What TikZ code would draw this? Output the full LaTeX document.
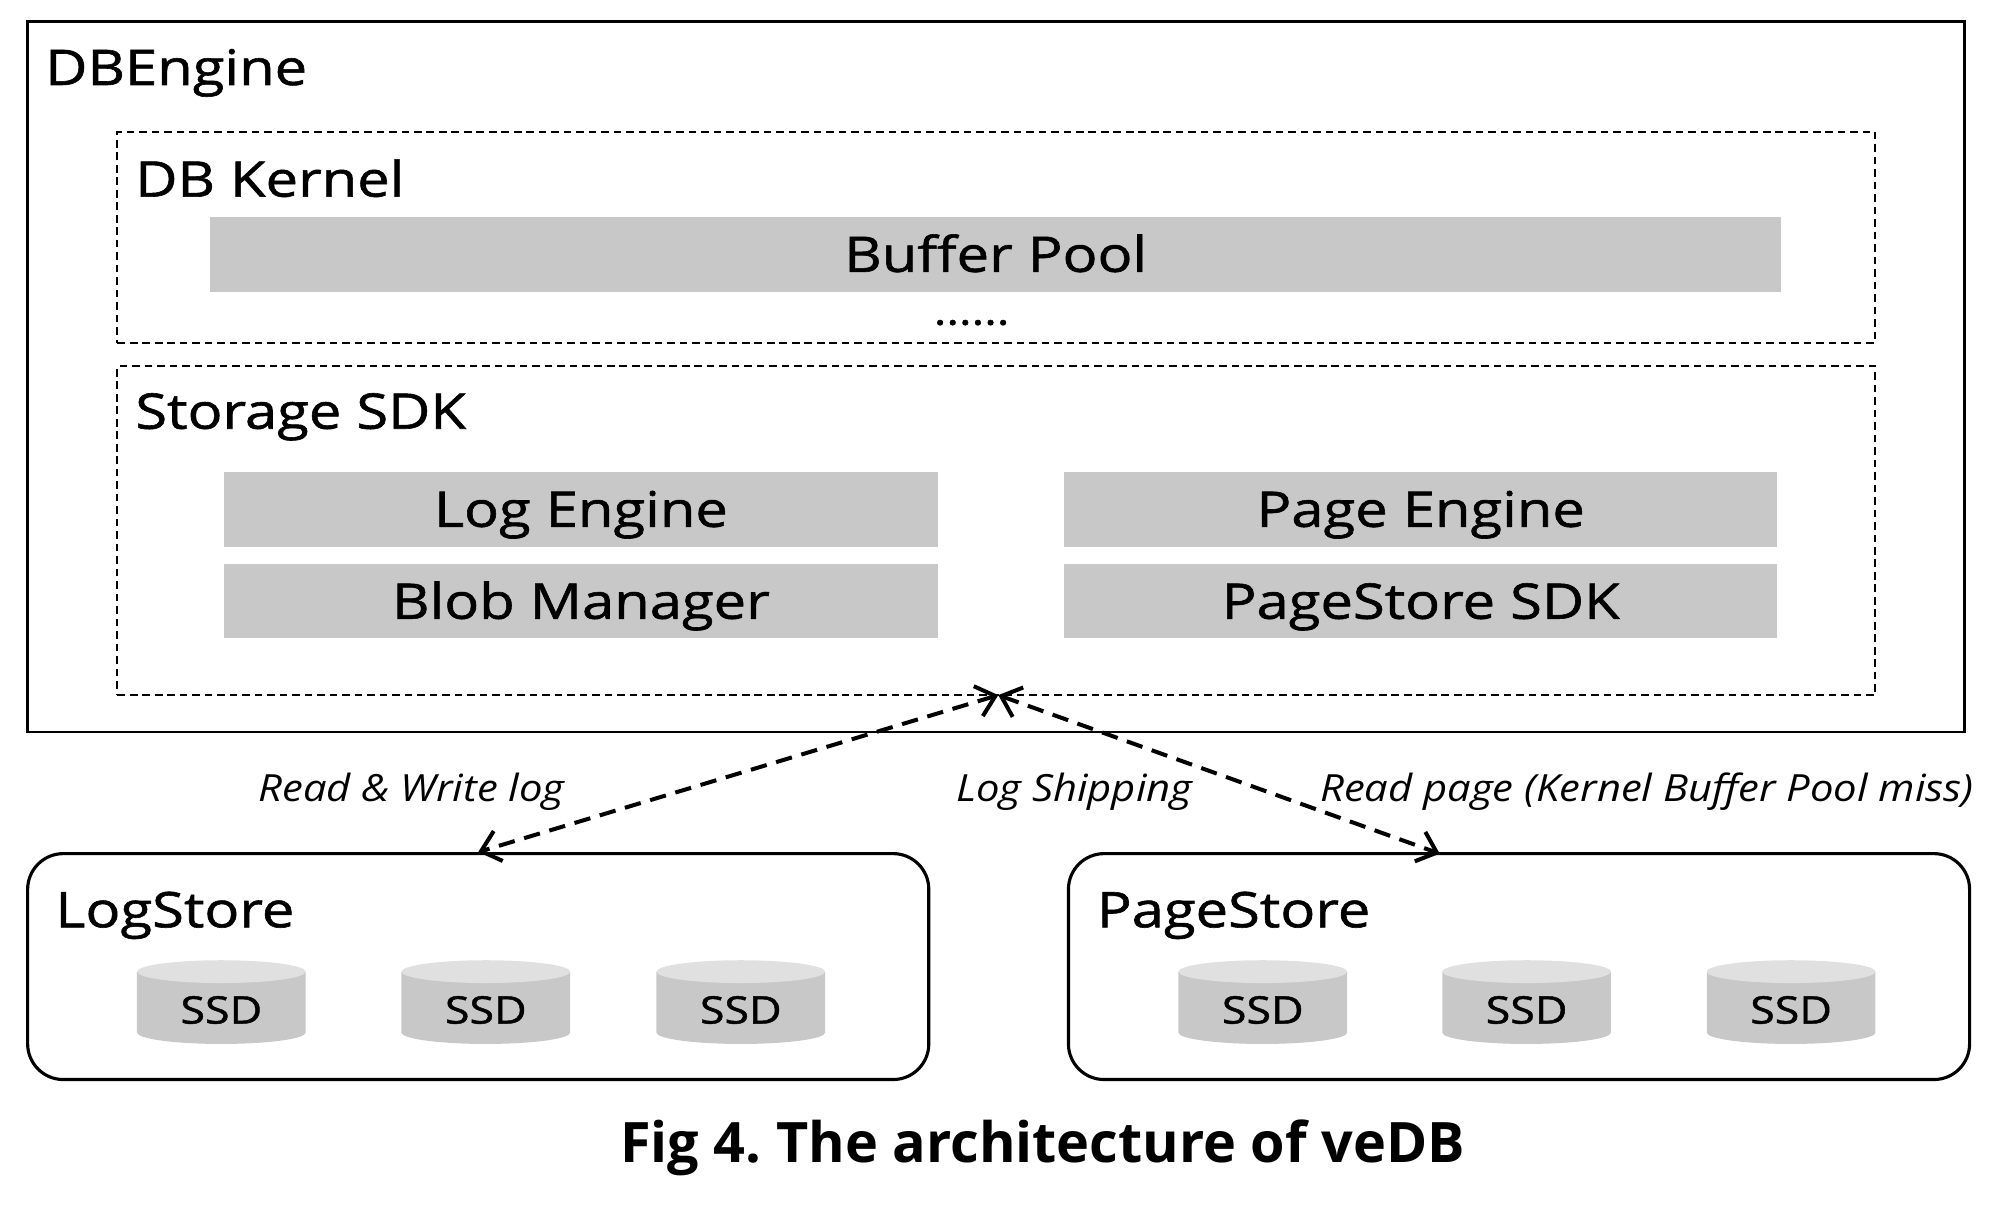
\documentclass[tikz,border=0pt]{standalone}
\usepackage{fontspec}
\setmainfont{Open Sans}[UprightFeatures={FakeStretch=1.18,FakeBold=1.2},ItalicFeatures={FakeStretch=1.115}]
\newfontfamily\figcapfont{Open Sans}
\usetikzlibrary{arrows.meta}
\frenchspacing

\definecolor{barGray}{RGB}{200,200,200}
\definecolor{ssdTop}{RGB}{224,224,224}

\tikzset{
	layerbox/.style={draw,dash pattern=on 1.7pt off 1.1pt,line width=0.45pt,minimum width=13.85cm},
	module/.style={fill=barGray,inner sep=0pt,text height=7.85pt,text depth=0pt,font=\fontsize{11}{13}\selectfont},
	title/.style={anchor=base west,inner sep=0pt,font=\fontsize{11}{13}\selectfont},
	store/.style={draw,rounded corners=8pt,line width=0.7pt,minimum width=7.1cm,minimum height=1.78cm},
	disk/.style={inner sep=0pt,text height=6.2pt,text depth=0pt,font=\fontsize{8.5}{10}\selectfont},
	note/.style={anchor=base west,inner sep=0pt,font=\fontsize{8.4}{10}\selectfont\itshape},
	link/.style={dash pattern=on 3.7pt off 2.2pt,line width=0.9pt,
		{Straight Barb[length=4pt,width=7pt]}-{Straight Barb[length=4pt,width=7pt]}},
}

\begin{document}
\begin{tikzpicture}[x=0.01cm,y=0.01cm]
\useasboundingbox (0,0) rectangle (1568,957);

%DBEngine
\node[draw,line width=0.6pt,minimum width=15.26cm,minimum height=5.6cm] (dbengine) at (785,660) {};
\node[title] (dbtitle) at (35,890) {DBEngine};

%DB Kernel
\node[layerbox,minimum height=1.66cm] (kernel) at (785.5,770) {};
\node[title] (kerneltitle) at (106,802) {DB Kernel};
\node[module,minimum width=12.38cm,minimum height=0.59cm] (bufpool) at (785,756.5) {Buffer Pool};
\node[anchor=base,inner sep=0pt,font=\fontsize{9}{11}\selectfont] (dots) at (766,701) {......};

%Storage SDK
\node[layerbox,minimum height=2.59cm] (sdk) at (785.5,538.5) {};
\node[title] (sdktitle) at (106,619) {Storage SDK};
\node[module,minimum width=5.62cm,minimum height=0.59cm] (logeng) at (458,555.5) {Log Engine};
\node[module,minimum width=5.62cm,minimum height=0.58cm] (blobmgr) at (458,483) {Blob Manager};
\node[module,minimum width=5.62cm,minimum height=0.59cm] (pageeng) at (1120,555.5) {Page Engine};
\node[module,minimum width=5.62cm,minimum height=0.58cm] (pssdk) at (1120,483) {PageStore SDK};

%LogStore / PageStore
\node[store] (logstore) at (377,195) {};
\node[title] (lstitle) at (43,226) {LogStore};
\node[store] (pagestore) at (1197.5,195) {};
\node[title] (pstitle) at (864,226) {PageStore};

\foreach \x/\n in {174.5/ls1,383/ls2,584/ls3,995.5/ps1,1203.5/ps2,1412/ps3}{
	\fill[barGray] (\x-66.5,191) -- (\x-66.5,143) arc[start angle=180,end angle=360,x radius=66.5,y radius=9] -- (\x+66.5,191) -- cycle;
	\fill[ssdTop] (\x,191) ellipse[x radius=66.5,y radius=9];
	\node[disk] (\n) at (\x,161) {SSD};
}

%links
\coordinate (apex) at (787,409);
\coordinate (psin) at (1135,284);
\draw[link] (apex) -- (logstore.north);
\draw[link] (apex) -- (psin);

\node[note] (rwlabel) at (203,325) {Read \& Write log};
\node[note] (shiplabel) at (753,325) {Log Shipping};
\node[note] (readlabel) at (1040,325) {Read page (Kernel Buffer Pool miss)};

\node[anchor=base,inner sep=0pt,font=\figcapfont\bfseries\fontsize{12.5}{15}\selectfont] (caption) at (822,40.5) {Fig 4. The architecture of veDB};

\end{tikzpicture}
\end{document}
